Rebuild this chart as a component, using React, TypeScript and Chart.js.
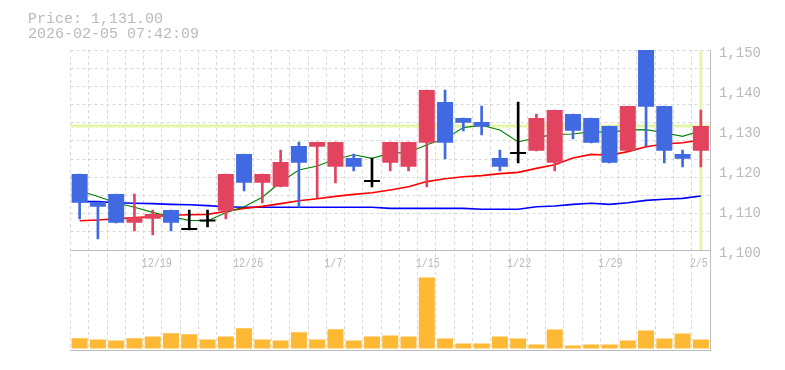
import React, { useEffect, useRef } from 'react';
import { Chart, registerables } from 'chart.js';

Chart.register(...registerables);

// ---- data ----
const dates = ['12/15','12/16','12/17','12/18','12/19','12/22','12/23','12/24','12/25','12/26','12/29','12/30','1/5','1/6','1/7','1/8','1/9','1/13','1/14','1/15','1/16','1/19','1/20','1/21','1/22','1/23','1/26','1/27','1/28','1/29','1/30','2/2','2/3','2/4','2/5'];
const opens =  [1119,1112,1114,1106.8,1107.8,1110,1105,1107.1,1109.8,1124,1116.8,1115.8,1126,1125.8,1120.8,1123,1117,1121.8,1120.8,1126.8,1137,1133,1132,1123,1124,1124.8,1121.8,1134,1133,1131,1124.8,1150,1136,1124,1124.8];
const highs =  [1119,1112,1114,1114,1110,1110,1110,1110,1119,1124,1119,1125,1127,1127,1127,1124,1123,1127,1127,1140,1140,1133,1136,1125,1137,1134,1135,1134,1133,1131,1136,1150,1136,1125,1135];
const lows =   [1107.8,1102.8,1106.8,1104.8,1103.8,1104.8,1105,1105.8,1107.8,1114.8,1111.8,1115.8,1110.7,1113,1116.8,1119.8,1115.8,1119.8,1119.8,1115.8,1122.8,1129.8,1128.8,1119.8,1121.8,1124.8,1119.8,1127.8,1126.8,1121.8,1124.8,1126,1121.8,1120.8,1120.8];
const closes = [1111.8,1110.8,1106.8,1108.2,1109,1106.8,1105,1107.1,1119,1116.8,1119,1122,1121.8,1127,1127,1120.8,1117,1127,1127,1140,1126.8,1131.8,1130.8,1120.8,1124,1133,1135,1129.8,1126.8,1121.8,1136,1135.8,1124.8,1122.8,1131];
const ma5 =  [1114.8,1113.4,1111.8,1110.7,1109.4,1108.3,1107.4,1107.3,1109.3,1110.8,1113.2,1117,1120,1121,1122.7,1123.8,1122.9,1124.2,1124.4,1126.3,1127.8,1130.6,1131.2,1130,1127,1128.1,1128.9,1129,1129.6,1129.4,1130,1130.1,1129.3,1128.4,1129.8];
const ma25 = [1107.3,1107.5,1107.8,1108.1,1108.3,1108.7,1108.8,1108.9,1109.7,1110.4,1110.9,1111.6,1112.3,1112.8,1113.4,1113.9,1114.3,1115,1115.8,1117.1,1117.8,1118.3,1118.6,1119.1,1119.4,1120.4,1121.3,1123,1123.9,1123.7,1124.6,1125.8,1126.5,1126.8,1127.5];
const ma75 = [1112.1,1112.1,1111.8,1111.7,1111.6,1111.4,1111.3,1111.1,1110.8,1110.7,1110.7,1110.7,1110.7,1110.7,1110.7,1110.7,1110.7,1110.4,1110.4,1110.4,1110.4,1110.4,1110.2,1110.2,1110.2,1110.8,1111,1111.4,1111.7,1111.4,1111.8,1112.4,1112.7,1112.9,1113.5];
const volumes = [10.3,9,8,10.3,12,15.3,14.3,9,12,20.3,9,8,16.3,9,19.3,8,12,13,12,71.3,10,5,5,12,10,4,19,3,4,4,8,18,10,15,9];
const dateTickLabels = ['12/19','12/26','1/7','1/15','1/22','1/29','2/5'];
const priceTickLabels = [1100,1110,1120,1130,1140,1150];
const timestamp = '2026-02-05 07:42:09';

// ---- style ----
const UP = '#e2445f';
const DOWN = '#4169e1';
const FLAT = '#000000';
const GRID = '#d9d9d9';
const AXIS = '#bdbdbd';
const TEXT = '#bababa';
const CUR = '#e3f5a6';
const VOL = '#fdb933';

const priceMin = priceTickLabels[0];
const priceMax = priceTickLabels[priceTickLabels.length - 1];
const axisMin = priceMin - (priceMax - priceMin) / 2; // volume panel below
const gridVals = Array.from({ length: 11 }, (_, k) => priceMin + ((k + 1) * (priceMax - priceMin)) / 11);
const lastClose = closes[closes.length - 1];

const candleColor = closes.map((c, i) => (c > opens[i] ? UP : c < opens[i] ? DOWN : FLAT));

const overlay = {
  id: 'overlay',
  beforeDatasetsDraw(chart: any) {
    const { ctx, chartArea: a, scales } = chart;
    const y = scales.y;
    const x = scales.x;
    ctx.save();
    ctx.strokeStyle = CUR;
    ctx.lineWidth = 3;
    const py = y.getPixelForValue(lastClose);
    ctx.beginPath();
    ctx.moveTo(a.left, py);
    ctx.lineTo(a.right, py);
    ctx.stroke();
    const px = x.getPixelForValue(dates.length - 1);
    ctx.beginPath();
    ctx.moveTo(px, y.getPixelForValue(priceMax));
    ctx.lineTo(px, y.getPixelForValue(priceMin));
    ctx.stroke();
    ctx.strokeStyle = AXIS;
    ctx.lineWidth = 1;
    const sy = Math.round(y.getPixelForValue(priceMin)) + 0.5;
    ctx.beginPath();
    ctx.moveTo(a.left, sy);
    ctx.lineTo(a.right, sy);
    ctx.stroke();
    ctx.restore();
  },
  afterDraw(chart: any) {
    const { ctx, scales } = chart;
    const x = scales.x;
    const y = scales.y;
    const slot = Math.abs(x.getPixelForValue(1) - x.getPixelForValue(0));
    ctx.save();
    ctx.fillStyle = TEXT;
    ctx.textBaseline = 'alphabetic';
    ctx.textAlign = 'left';
    // date labels at the top of the volume panel
    ctx.font = '12px "Liberation Mono"';
    const ly = y.getPixelForValue(priceMin) + 17;
    dateTickLabels.forEach((lab) => {
      const i = dates.indexOf(lab);
      if (i < 0) return;
      const lx = x.getPixelForValue(i) - slot / 2 - 2;
      ctx.save();
      ctx.translate(lx, ly);
      ctx.scale(0.84, 1);
      ctx.fillText(lab, 0, 0);
      ctx.restore();
    });
    // header text
    ctx.font = '15px "Liberation Mono"';
    ctx.fillText('Price: ' + lastClose.toLocaleString('en-US', { minimumFractionDigits: 2, maximumFractionDigits: 2 }), 28, 23);
    ctx.fillText(timestamp, 28, 38);
    ctx.restore();
  },
};

export default function App() {
  const ref = useRef<HTMLCanvasElement>(null);
  useEffect(() => {
    const chart = new Chart(ref.current as HTMLCanvasElement, {
      type: 'bar',
      data: {
        labels: dates,
        datasets: [
          {
            type: 'bar',
            label: 'body',
            data: opens.map((o, i) => [o, closes[i]]) as any,
            backgroundColor: candleColor,
            borderWidth: 0,
            barPercentage: 0.876,
            categoryPercentage: 1,
            minBarLength: 2,
            grouped: false,
            yAxisID: 'y',
            order: 0,
          } as any,
          {
            type: 'bar',
            label: 'wick',
            data: lows.map((l, i) => [l, highs[i]]) as any,
            backgroundColor: candleColor,
            borderWidth: 0,
            barThickness: 2,
            grouped: false,
            yAxisID: 'y',
            order: 1,
          } as any,
          {
            type: 'line',
            label: 'MA5',
            data: ma5,
            borderColor: '#008000',
            borderWidth: 1.1,
            pointRadius: 0,
            tension: 0,
            yAxisID: 'y',
            order: 2,
          },
          {
            type: 'line',
            label: 'MA25',
            data: ma25,
            borderColor: '#ff0000',
            borderWidth: 1.6,
            pointRadius: 0,
            tension: 0,
            yAxisID: 'y',
            order: 3,
          },
          {
            type: 'line',
            label: 'MA75',
            data: ma75,
            borderColor: '#0000ff',
            borderWidth: 1.6,
            pointRadius: 0,
            tension: 0,
            yAxisID: 'y',
            order: 4,
          },
          {
            type: 'bar',
            label: 'volume',
            data: volumes,
            backgroundColor: VOL,
            borderWidth: 0,
            barPercentage: 0.876,
            categoryPercentage: 1,
            grouped: false,
            yAxisID: 'yv',
            order: 5,
          } as any,
        ],
      },
      options: {
        responsive: false,
        maintainAspectRatio: false,
        animation: false,
        events: [],
        layout: { padding: { left: 70.5, top: 50, right: 0, bottom: 20 } },
        plugins: { legend: { display: false }, tooltip: { enabled: false } },
        scales: {
          x: {
            type: 'category',
            offset: true,
            grid: { offset: true, color: GRID, lineWidth: 1, drawTicks: false },
            border: { display: true, color: AXIS, width: 1, dash: [3, 3] },
            ticks: { display: false },
            afterFit: (s: any) => { s.height = 0; },
          },
          y: {
            type: 'linear',
            position: 'right',
            min: axisMin,
            max: priceMax,
            afterBuildTicks: (s: any) => { s.ticks = priceTickLabels.map((v) => ({ value: v })); },
            grid: { display: false, drawTicks: false },
            border: { display: true, color: AXIS, width: 1 },
            ticks: {
              color: TEXT,
              font: { family: 'Liberation Mono', size: 14 },
              padding: 9,
              labelOffset: 3,
              autoSkip: false,
              callback: (v: any) => Number(v).toLocaleString('en-US'),
            },
            afterFit: (s: any) => { s.width = 75; },
          },
          yg: {
            type: 'linear',
            position: 'right',
            min: axisMin,
            max: priceMax,
            afterBuildTicks: (s: any) => { s.ticks = gridVals.map((v) => ({ value: v })); },
            grid: { color: GRID, lineWidth: 1, drawTicks: false },
            border: { display: false, dash: [3, 3] },
            ticks: { display: false },
            afterFit: (s: any) => { s.width = 0; },
          },
          yv: {
            type: 'linear',
            display: false,
            min: -1.5,
            max: 300,
          },
        },
      } as any,
      plugins: [overlay],
    });
    return () => chart.destroy();
  }, []);
  return (
    <div style={{ position: 'fixed', left: 0, top: 0, width: 785, height: 370, background: '#fff' }}>
      <canvas ref={ref} width={785} height={370} style={{ display: 'block' }} />
    </div>
  );
}
